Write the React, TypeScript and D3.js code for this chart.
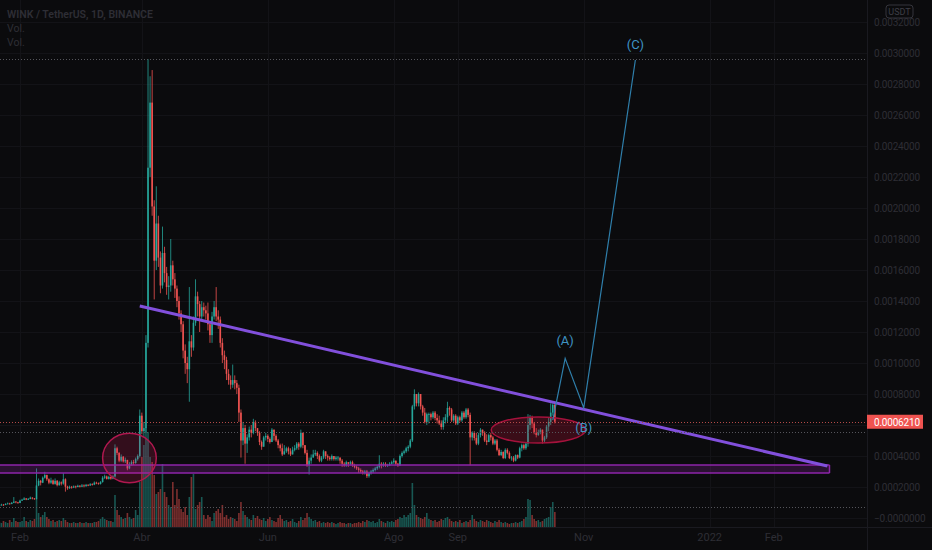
import { useEffect, useRef } from "react";
import * as d3 from "d3";

// daily candles starting 2021-01-22, prices in 1e-5 USDT
const firstDay = new Date(2021, 0, 22);
const firstOpen = 8.0;

const closes = [
  8.2, 8.6, 8.4, 9.0, 9.4, 9.1, 9.8, 10.6, 10.1, 9.7,
  11.2, 11.8, 12.6, 11.9, 12.3, 13.1, 12.6, 12.2, 21.0, 24.0,
  22.8, 26.0, 27.7, 25.0, 22.8, 24.2, 22.0, 24.0, 21.2, 23.0,
  22.2, 25.0, 20.2, 19.2, 20.1, 19.6, 20.4, 20.0,
  20.8, 20.2, 21.0, 20.5, 21.4, 21.0, 21.8, 21.5, 22.8, 22.4,
  22.0, 23.2, 26.0, 26.8, 25.2, 26.5, 25.4, 26.8, 45.0, 42.0,
  37.0, 39.5, 36.5, 37.5, 32.0, 34.5, 36.0, 35.5, 38.0, 40.0,
  66, 56, 58, 113, 226, 268, 201, 166, 190, 168,
  150, 171, 158, 149, 150, 163, 154, 148, 140, 132,
  125, 108, 100, 96, 114, 110, 126, 143, 138, 130,
  136, 134, 132, 125, 118, 130, 136, 130, 128, 113,
  105, 102, 93, 89, 86, 89, 87, 84, 68, 50,
  58, 48, 52, 57, 55, 62, 58, 55, 49, 46,
  52, 53, 51, 49, 57, 53, 50, 47, 45, 41,
  43, 45, 43, 41, 44, 45, 48, 46, 55, 47,
  42, 34, 37, 39, 41, 42, 40, 37, 39, 43,
  40, 39, 38, 40, 38, 39, 39, 37, 35, 34,
  36, 35, 36, 34, 33, 32, 31, 30, 29, 30,
  27, 29, 30, 31, 32, 33, 35, 34, 35, 34,
  34, 35, 36, 37, 35, 34, 40, 42, 43, 45,
  46, 50, 72, 80, 74, 80, 72, 68, 62, 67,
  67, 65, 68, 64.5, 63, 61, 58.7, 63, 65, 71,
  70, 63, 66, 61, 65, 63, 68, 65, 70, 66.5,
  52, 55, 51.6, 48, 53.5, 57, 55, 50, 49, 53.5,
  52, 48, 50, 44, 40.6, 42.6, 38.7, 44, 42, 38.7,
  39, 37, 40.6, 39, 45, 47, 45, 48, 60, 65,
  61, 55, 53.5, 55, 57, 50, 52, 59, 62, 68, 73, 62.1,
];

const highs = [
  8.8, 9.2, 9.0, 9.5, 10.0, 9.8, 10.3, 13.5, 10.8, 10.4,
  11.8, 12.4, 13.4, 12.9, 12.9, 13.8, 13.4, 12.9, 32.0, 25.5,
  24.6, 26.8, 29.8, 28.0, 25.6, 26.0, 24.8, 25.5, 24.5, 24.0,
  23.6, 29.0, 25.6, 20.8, 20.9, 20.7, 21.0, 20.9,
  21.5, 21.2, 21.9, 21.7, 22.0, 21.8, 22.5, 22.4, 23.6, 23.4,
  22.9, 23.8, 27.0, 28.0, 27.4, 27.2, 26.8, 27.6, 47.5, 46.0,
  42.5, 41.0, 40.0, 39.0, 37.5, 36.0, 37.2, 37.5, 39.0, 41.0,
  70, 68, 62, 118, 296, 285, 289, 205, 214, 195,
  172, 188, 175, 162, 156, 180, 166, 158, 150, 143,
  134, 127, 112, 104, 149, 118, 130, 154, 146, 140,
  140, 139, 137, 139, 127, 133, 140, 149, 134, 130,
  116, 108, 104, 96, 92, 99, 92, 89, 86, 70,
  62, 60, 54, 59, 60, 64, 63, 58, 56, 50,
  53, 55, 54, 52, 58, 57, 54, 51, 48, 48,
  47, 46, 46, 45, 46, 47, 49, 49, 57, 55,
  47, 44, 39, 41, 44, 44, 43, 41, 40, 44,
  43, 41, 40, 41, 40, 40, 40, 39, 38, 36,
  37, 36, 37, 37, 35, 34, 33, 32, 31, 31,
  31, 30, 31, 32, 33, 34, 40.5, 36, 36, 36,
  35, 36, 37, 38.5, 37, 35.5, 41, 43, 44, 46,
  47, 51, 73, 83, 79, 81, 78, 73, 71, 68,
  68, 68, 69, 69, 67, 66, 63, 65, 67, 75,
  72, 71, 67, 67, 66, 66, 69, 69, 71, 71,
  68, 56, 56, 55, 55, 58, 57, 56, 54, 54.5,
  55, 53, 51, 51, 45, 44, 43, 45, 45, 43,
  40, 40, 41, 41, 46, 48, 48, 49, 67, 66.5,
  66, 62, 58, 57, 58, 57, 53, 60, 65, 74, 74, 74,
];

const lows = [
  7.6, 8.0, 7.9, 8.3, 8.8, 8.6, 8.9, 9.6, 9.5, 9.2,
  9.6, 11.0, 11.6, 11.5, 11.6, 12.1, 12.0, 11.8, 12.0, 20.5,
  21.0, 22.5, 25.4, 24.0, 21.8, 22.0, 21.4, 21.5, 20.4, 20.8,
  21.0, 21.5, 17.0, 18.2, 18.8, 18.9, 19.3, 19.1,
  19.8, 19.7, 19.9, 19.8, 20.2, 20.5, 20.6, 20.9, 21.2, 21.8,
  21.5, 21.6, 22.8, 25.2, 24.8, 24.8, 24.7, 25.0, 26.0, 40.5,
  36.0, 36.2, 35.8, 35.5, 30.8, 31.5, 33.8, 34.2, 35.0, 37.0,
  39, 54, 52, 55, 110, 220, 195, 141, 160, 162,
  145, 148, 152, 144, 141, 146, 150, 142, 136, 128,
  120, 103, 93, 87, 75, 104, 108, 124, 130, 120,
  127, 130, 128, 121, 113, 113, 128, 127, 122, 110,
  100, 96, 89, 86, 83, 84, 83, 80, 62, 39,
  47, 35, 42, 50, 52, 54, 56, 53, 47, 44,
  46, 50, 49, 48, 49, 50, 49, 45, 43, 40,
  41, 42, 41, 40, 41, 43, 44, 44, 45, 45,
  41, 33, 28, 35, 39, 40, 38, 36, 36, 38,
  38, 37, 37, 37, 37, 37, 37, 35, 33, 33,
  33, 33, 34, 33, 32, 31, 29, 29, 28, 28,
  25.8, 26, 28, 29, 30, 31, 32, 32, 33, 33,
  33, 33.5, 34.5, 35, 34, 33, 33.5, 39, 41, 42,
  43, 45, 49, 70, 72, 72, 70, 66, 61, 60,
  61, 63, 64, 63, 61, 60, 57, 57, 61, 62,
  66, 62, 62, 60, 60, 62, 62, 64, 64, 65,
  34, 50, 50, 47, 47, 52, 53, 49, 47, 49,
  50, 47, 47, 43, 40, 40, 38, 38, 41, 38,
  37, 36, 36.5, 38, 38.5, 43, 44, 44, 46, 57,
  58, 54, 52, 53, 54, 48, 49, 51, 56, 60, 66, 61,
];

// volume in millions of WIN
const volumes = [
  5, 4, 6, 5, 4, 7, 5, 9, 6, 5,
  5, 6, 10, 6, 5, 7, 6, 8, 28, 14,
  10, 12, 15, 10, 8, 6, 7, 5, 6, 7,
  6, 9, 7, 5, 4, 4, 5, 4, 4, 5,
  4, 4, 5, 4, 4, 4, 5, 5, 6, 8,
  10, 8, 7, 6, 6, 5, 32, 17, 12, 10,
  8, 9, 14, 10, 8, 9, 17, 12, 45, 70,
  82, 100, 95, 70, 65, 52, 33, 35, 38, 63,
  35, 30, 22, 20, 45, 22, 38, 28, 18, 15,
  20, 12, 30, 50, 53, 18, 22, 25, 30, 12,
  8, 12, 10, 6, 14, 16, 18, 14, 22, 10,
  12, 8, 10, 9, 8, 6, 14, 25, 16, 12,
  10, 8, 7, 12, 9, 11, 8, 7, 9, 6,
  8, 10, 7, 6, 5, 9, 12, 8, 6, 7,
  5, 6, 8, 5, 4, 6, 10, 7, 9, 14,
  10, 8, 6, 7, 5, 6, 4, 5, 4, 5,
  4, 5, 4, 3, 4, 5, 4, 4, 3, 4,
  4, 3, 4, 4, 5, 4, 6, 5, 7, 6,
  5, 6, 4, 5, 8, 6, 5, 4, 6, 5,
  6, 5, 7, 8, 10, 9, 12, 10, 12, 14,
  44, 22, 12, 10, 9, 8, 10, 14, 8, 7,
  6, 7, 5, 6, 8, 7, 9, 10, 8, 6,
  5, 6, 5, 7, 4, 5, 6, 5, 7, 12,
  8, 6, 5, 7, 6, 5, 7, 6, 5, 4,
  6, 5, 7, 5, 4, 5, 4, 3, 4, 4,
  5, 4, 5, 6, 8, 10, 28, 27, 12, 8,
  6, 7, 5, 6, 8, 9, 10, 20, 25, 15,
];

const priceTicks = [
  0, 0.0002, 0.0004, 0.0006, 0.0008, 0.001, 0.0012, 0.0014, 0.0016,
  0.0018, 0.002, 0.0022, 0.0024, 0.0026, 0.0028, 0.003, 0.0032,
];
const timeTickLabels = ["Feb", "Abr", "Jun", "Ago", "Sep", "Nov", "2022", "Feb"];
const timeTickDates = [
  "2021-02-01", "2021-04-01", "2021-06-01", "2021-08-01",
  "2021-09-01", "2021-11-01", "2022-01-01", "2022-02-01",
];

// drawings (date, price in 1e-5 USDT)
const trendDates = ["2021-03-31", "2022-02-27"];
const trendPrices = [136.8, 33.5];
const bandPrices = [29.0, 34.2];
const bandEnd = "2022-02-28";
const waveDates = ["2021-10-17", "2021-10-23", "2021-11-01", "2021-11-26"];
const wavePrices = [63.2, 103, 71, 295.5];
const waveLabels = ["", "(A)", "(B)", "(C)"];
const athPrice = 296;
const prevPrice = 55.5;

const App = () => {
  const svgRef = useRef<SVGSVGElement>(null);

  useEffect(() => {
    if (!svgRef.current) return;
    document.body.style.margin = "0";
    const svg = d3.select(svgRef.current);
    svg.selectAll("*").remove();

    const width = 932;
    const height = 550;
    const axisX = 867;
    const axisY = 527;
    const font = "Roboto, 'Trebuchet MS', sans-serif";
    const dim = "#2e2e35";
    const up = "#26a69a";
    const down = "#ef5350";

    const parse = d3.timeParse("%Y-%m-%d");
    const candles = closes.map((c, i) => ({
      date: d3.timeDay.offset(firstDay, i),
      open: (i === 0 ? firstOpen : closes[i - 1]) * 1e-5,
      close: c * 1e-5,
      high: highs[i] * 1e-5,
      low: lows[i] * 1e-5,
      vol: volumes[i],
    }));
    const last = candles[candles.length - 1].close;

    const x = d3
      .scaleTime()
      .domain([new Date(2021, 1, 1), new Date(2022, 1, 1)])
      .range([20, 20 + 365 * 2.065]);
    const y = d3.scaleLinear().domain([0, 0.0032]).range([518, 22]);
    const v = d3.scaleLinear().domain([0, 100]).range([axisY, axisY - 100]);

    svg.attr("viewBox", `0 0 ${width} ${height}`);
    svg.append("rect").attr("width", width).attr("height", height).attr("fill", "#0b0b0d");

    const defs = svg.append("defs");
    defs
      .append("clipPath")
      .attr("id", "plot-clip")
      .append("rect")
      .attr("width", axisX)
      .attr("height", axisY);

    // Grid
    const grid = svg.append("g").attr("stroke", "#131317").attr("stroke-width", 1);
    grid
      .selectAll("line.h")
      .data(priceTicks)
      .join("line")
      .attr("x1", 0)
      .attr("x2", axisX)
      .attr("y1", (d) => Math.round(y(d)) + 0.5)
      .attr("y2", (d) => Math.round(y(d)) + 0.5);
    grid
      .selectAll("line.v")
      .data(timeTickDates)
      .join("line")
      .attr("x1", (d) => Math.round(x(parse(d)!)) + 0.5)
      .attr("x2", (d) => Math.round(x(parse(d)!)) + 0.5)
      .attr("y1", 0)
      .attr("y2", axisY);

    const plot = svg.append("g").attr("clip-path", "url(#plot-clip)");
    const bw = 1.6;

    // Volume
    plot
      .selectAll("rect.vol")
      .data(candles)
      .join("rect")
      .attr("x", (d) => x(d.date) - bw / 2)
      .attr("y", (d) => v(d.vol))
      .attr("width", bw)
      .attr("height", (d) => axisY - v(d.vol))
      .attr("fill", (d) => (d.close >= d.open ? up : down))
      .attr("opacity", 0.5);

    // Wicks and bodies
    plot
      .selectAll("line.wick")
      .data(candles)
      .join("line")
      .attr("x1", (d) => x(d.date))
      .attr("x2", (d) => x(d.date))
      .attr("y1", (d) => y(d.high))
      .attr("y2", (d) => y(d.low))
      .attr("stroke", (d) => (d.close >= d.open ? up : down))
      .attr("stroke-width", 0.8);
    plot
      .selectAll("rect.body")
      .data(candles)
      .join("rect")
      .attr("x", (d) => x(d.date) - bw / 2)
      .attr("y", (d) => y(Math.max(d.open, d.close)))
      .attr("width", bw)
      .attr("height", (d) => Math.max(0.8, Math.abs(y(d.open) - y(d.close))))
      .attr("fill", (d) => (d.close >= d.open ? up : down));

    // Support band
    const bx0 = 0;
    const bx1 = x(parse(bandEnd)!);
    plot
      .append("rect")
      .attr("x", bx0)
      .attr("y", y(bandPrices[1] * 1e-5))
      .attr("width", bx1 - bx0)
      .attr("height", y(bandPrices[0] * 1e-5) - y(bandPrices[1] * 1e-5))
      .attr("fill", "rgba(156, 39, 176, 0.22)");
    bandPrices.forEach((p) => {
      plot
        .append("line")
        .attr("x1", bx0)
        .attr("x2", bx1)
        .attr("y1", y(p * 1e-5))
        .attr("y2", y(p * 1e-5))
        .attr("stroke", "#8e24aa")
        .attr("stroke-width", 1.5);
    });
    plot
      .append("line")
      .attr("x1", bx1)
      .attr("x2", bx1)
      .attr("y1", y(bandPrices[0] * 1e-5))
      .attr("y2", y(bandPrices[1] * 1e-5))
      .attr("stroke", "#8e24aa")
      .attr("stroke-width", 1.5);

    // Ellipses
    const ellipses = [
      { date: "2021-03-26", price: 38.7, days: 13, span: 16, fill: "rgba(233, 30, 99, 0.18)", stroke: "#b0184f" },
      { date: "2021-10-10", price: 56.8, days: 22.8, span: 8.4, fill: "rgba(200, 20, 60, 0.25)", stroke: "#a5123c" },
    ];
    ellipses.forEach((e) => {
      const d0 = parse(e.date)!;
      const cx = x(d0);
      const rx = (x(d3.timeDay.offset(d0, 1)) - cx) * e.days;
      const cy = y(e.price * 1e-5);
      const ry = y(0) - y(e.span * 1e-5);
      plot
        .append("ellipse")
        .attr("cx", cx)
        .attr("cy", cy)
        .attr("rx", rx)
        .attr("ry", ry)
        .attr("fill", e.fill)
        .attr("stroke", e.stroke)
        .attr("stroke-width", 1.5);
    });

    // Trend line
    plot
      .append("line")
      .attr("x1", x(parse(trendDates[0])!))
      .attr("y1", y(trendPrices[0] * 1e-5))
      .attr("x2", x(parse(trendDates[1])!))
      .attr("y2", y(trendPrices[1] * 1e-5))
      .attr("stroke", "#8250dc")
      .attr("stroke-width", 3);

    // Dotted price lines
    const dotted = [
      { y: y(athPrice * 1e-5), c: "#55555b" },
      { y: y(last), c: "#b44a48" },
      { y: y(prevPrice * 1e-5), c: "#55555b" },
      { y: v(20), c: "#55555b" },
    ];
    dotted.forEach((l) => {
      svg
        .append("line")
        .attr("x1", 0)
        .attr("x2", axisX)
        .attr("y1", Math.round(l.y) + 0.5)
        .attr("y2", Math.round(l.y) + 0.5)
        .attr("stroke", l.c)
        .attr("stroke-width", 1)
        .attr("stroke-dasharray", "1,2");
    });

    // Wave path
    const wave = waveDates.map((d, i) => [x(parse(d)!), y(wavePrices[i] * 1e-5)] as [number, number]);
    plot
      .append("path")
      .attr("d", d3.line()(wave))
      .attr("fill", "none")
      .attr("stroke", "#2f7fab")
      .attr("stroke-width", 1.2);
    const labelOffset = [
      [0, 0],
      [0, -13],
      [0, 24],
      [0, -11],
    ];
    plot
      .selectAll("text.wave")
      .data(waveLabels)
      .join("text")
      .attr("x", (_, i) => wave[i][0] + labelOffset[i][0])
      .attr("y", (_, i) => wave[i][1] + labelOffset[i][1])
      .attr("text-anchor", "middle")
      .attr("fill", "#3f93c4")
      .attr("font-family", font)
      .attr("font-size", "13px")
      .text((d) => d);

    // Axes frame
    svg
      .append("line")
      .attr("x1", axisX + 0.5)
      .attr("x2", axisX + 0.5)
      .attr("y1", 0)
      .attr("y2", height)
      .attr("stroke", "#1a1a20");
    svg
      .append("line")
      .attr("x1", 0)
      .attr("x2", width)
      .attr("y1", axisY + 0.5)
      .attr("y2", axisY + 0.5)
      .attr("stroke", "#1a1a20");

    // Price axis labels (the one under the last price tag is hidden)
    const lastY = y(last);
    svg
      .selectAll("text.price")
      .data(priceTicks.filter((d) => Math.abs(y(d) - lastY) > 12))
      .join("text")
      .attr("x", 874)
      .attr("y", (d) => y(d) + 4)
      .attr("fill", dim)
      .attr("font-family", font)
      .attr("font-size", "10px")
      .attr("letter-spacing", "-0.2px")
      .text((d) => (d === 0 ? "\u22120.0000000" : d.toFixed(7)));

    // Last price tag
    svg
      .append("rect")
      .attr("x", axisX)
      .attr("y", lastY - 7)
      .attr("width", 56)
      .attr("height", 14)
      .attr("fill", down);
    svg
      .append("text")
      .attr("x", 874)
      .attr("y", lastY + 4)
      .attr("fill", "#ffffff")
      .attr("font-family", font)
      .attr("font-size", "10px")
      .attr("letter-spacing", "-0.2px")
      .text(last.toFixed(7));

    // Currency badge
    svg
      .append("rect")
      .attr("x", 886)
      .attr("y", 5)
      .attr("width", 27)
      .attr("height", 13)
      .attr("rx", 3)
      .attr("fill", "#0b0b0d")
      .attr("stroke", "#35353c");
    svg
      .append("text")
      .attr("x", 899.5)
      .attr("y", 15)
      .attr("text-anchor", "middle")
      .attr("fill", "#3e3e46")
      .attr("font-family", font)
      .attr("font-size", "9px")
      .text("USDT");

    // Time axis labels
    svg
      .selectAll("text.time")
      .data(timeTickLabels)
      .join("text")
      .attr("x", (_, i) => x(parse(timeTickDates[i])!))
      .attr("y", 541)
      .attr("text-anchor", "middle")
      .attr("fill", dim)
      .attr("font-family", font)
      .attr("font-size", "11px")
      .text((d) => d);

    // Legend
    const legend = ["WINK / TetherUS, 1D, BINANCE", "Vol.", "Vol."];
    svg
      .selectAll("text.legend")
      .data(legend)
      .join("text")
      .attr("x", 7)
      .attr("y", (_, i) => 18 + i * 14)
      .attr("fill", dim)
      .attr("font-family", font)
      .attr("font-size", "10.5px")
      .attr("font-weight", (_, i) => (i === 0 ? 600 : 400))
      .text((d) => d);
  }, []);

  return (
    <svg
      ref={svgRef}
      width={932}
      height={550}
      style={{ display: "block", position: "absolute", left: 0, top: 0 }}
    />
  );
};

export default App;
